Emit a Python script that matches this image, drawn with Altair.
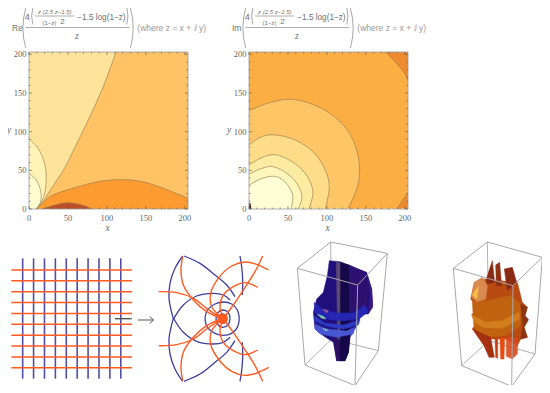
import altair as alt
import pandas as pd

# ---------- contour data (x, y in plot units) ----------
X_MAX, Y_MAX = 204, 203
MAJOR = [0, 50, 100, 150, 200]
MINOR = [10, 20, 30, 40, 60, 70, 80, 90, 110, 120, 130, 140, 160, 170, 180, 190]

re_upper = [(10, 0), (17, 8), (29, 27), (44, 50), (59, 80), (76, 115), (94, 155), (111, 201), (116, 215)]
re_arc1 = [(0, 91), (12, 78), (20, 59), (22, 38), (19, 16), (10, 0)]
re_arc2 = [(0, 46), (9, 38), (15, 23), (15, 10), (10, 0)]
re_low = [(10, 0), (27, 16), (57, 27), (87, 35), (117, 38), (147, 35), (177, 25), (204, 14), (215, 9)]
re_red = [(17, 0), (29, 4), (49, 8), (66, 5.5), (79, 0)]

im_c1 = [(0, 127), (25, 137), (52, 142), (85, 134), (116, 114), (135, 86), (142, 50), (138, 25), (127, 0)]
im_c2 = [(0, 83), (15, 93), (30, 96), (60, 89), (85, 71), (100, 45), (103, 28), (98, 0)]
im_c3 = [(0, 57), (20, 68), (35, 70), (60, 58), (75, 42), (82, 22), (77, 0)]
im_c4 = [(0, 45), (15, 52), (30, 55), (50, 45), (62, 32), (68, 15), (63, 0)]
im_c5 = [(0, 31), (18, 40), (35, 42), (48, 33), (56, 18), (54, 0)]
im_tr = [(172, 206), (188, 190), (200, 175), (206, 163)]
im_br = [(190, 0), (196, 10), (204, 21), (210, 28)]
im_dot = [(0, 0), (0, 8), (2, 7), (3, 0)]

# ---------- conformal-map sketch (reference units, y down) ----------
GRID = [1, 2, 3, 4, 5, 6, 7, 8, 9, 10]
blue_curves = [
    [(548, 78), (525, 115), (510, 160), (507, 205), (512, 235), (520, 266)],
    [(552, 78), (600, 100), (645, 135), (680, 165), (705, 200)],
    [(720, 78), (725, 110), (728, 150), (727, 195)],
    [(520, 268), (550, 225), (590, 198), (640, 190), (670, 195), (690, 210)],
    [(615, 266), (622, 240), (645, 222), (670, 216), (695, 222), (712, 240), (718, 266)],
    [(648, 266), (652, 250), (668, 240), (685, 248), (690, 266)],
    [(656, 266), (660, 256), (668, 252), (676, 256), (680, 266)],
]
orange_curves = [
    [(476, 185), (530, 188), (580, 205), (620, 235), (660, 262)],
    [(548, 80), (543, 120), (550, 165), (580, 210), (620, 245), (665, 265)],
    [(788, 78), (765, 125), (730, 180), (700, 225), (670, 265)],
    [(806, 120), (770, 103), (735, 96), (695, 108), (655, 145), (632, 190), (635, 230), (665, 262)],
    [(773, 172), (735, 158), (700, 170), (670, 195), (660, 230), (668, 262)],
]
MIRROR_Y = 532

# ---------- 3-D box frames and body outlines ----------
frame_c = [[(22, 88), (122, 9), (292, 43), (203, 138), (22, 88), (45, 378), (195, 440), (265, 335), (292, 43)],
           [(203, 138), (195, 440)], [(45, 378), (125, 300), (265, 335)], [(122, 9), (125, 300)]]
frame_d = [[(13, 88), (115, 9), (280, 55), (192, 140), (13, 88), (38, 380), (188, 442), (258, 345), (280, 55)],
           [(192, 140), (188, 442)], [(38, 380), (120, 305), (258, 345)], [(115, 9), (120, 305)]]

body_c = [
    ("#21107c", 1, [(118, 65), (150, 68), (190, 85), (230, 100), (245, 150), (248, 200), (235, 225), (215, 225), (200, 260),
                    (180, 295), (175, 340), (165, 365), (140, 365), (130, 310), (100, 290), (75, 270), (70, 220), (80, 180), (100, 160), (112, 110)]),
    ("#2c0f62", 1, [(130, 290), (180, 290), (175, 340), (165, 365), (140, 365)]),
    ("#150848", 1, [(150, 70), (178, 78), (178, 300), (175, 340), (165, 365), (150, 365)]),
    ("#2e1070", 1, [(178, 78), (222, 98), (235, 150), (230, 200), (178, 220)]),
    ("#5a4a70", 1, [(139, 70), (150, 70), (150, 300), (143, 300)]),
    ("#3a1a80", 1, [(232, 110), (245, 150), (248, 205), (236, 222), (240, 160)]),
    ("#2628b8", 0.95, [(72, 190), (100, 212), (140, 222), (190, 222), (225, 198), (235, 218), (210, 238), (160, 246), (110, 240), (75, 222)]),
    ("#2f3cc8", 0.95, [(72, 230), (105, 252), (160, 258), (210, 242), (205, 258), (160, 270), (110, 262), (75, 247)]),
    ("#4a5ad8", 0.95, [(75, 255), (110, 270), (170, 276), (195, 265), (190, 285), (140, 295), (90, 285), (75, 270)]),
    ("#86e0b4", 0.9, [(82, 226), (100, 232), (108, 240), (95, 238)]),
    ("#b86aa0", 0.8, [(98, 210), (115, 215), (110, 222)]),
    ("#8fdcc0", 0.8, [(98, 268), (115, 272), (108, 276)]),
]
body_d = [
    ("#b84a12", 1, [(100, 120), (205, 130), (220, 190), (235, 205), (228, 230), (238, 242), (225, 265), (235, 295), (215, 300),
                    (205, 320), (170, 300), (125, 300), (105, 300), (70, 268), (90, 250), (68, 228), (85, 205), (65, 180), (75, 135)]),
    ("#8a2a12", 1, [(112, 120), (130, 65), (137, 130), (115, 135)]),
    ("#8f3014", 1, [(140, 78), (152, 70), (158, 140), (142, 140)]),
    ("#8a2a12", 1, [(166, 90), (190, 85), (203, 130), (175, 155)]),
    ("#d98a50", 1, [(75, 130), (100, 115), (115, 140), (110, 180), (85, 190), (68, 175)]),
    ("#f5c040", 1, [(70, 168), (88, 142), (84, 180)]),
    ("#c0620f", 1, [(70, 190), (110, 185), (185, 170), (215, 195), (215, 260), (170, 290), (110, 295), (75, 265)]),
    ("#d58220", 0.9, [(68, 228), (110, 250), (160, 245), (210, 220), (212, 240), (160, 268), (100, 265), (75, 248)]),
    ("#a53010", 1, [(125, 295), (136, 355), (120, 355), (105, 320), (70, 270)]),
    ("#c83c14", 1, [(138, 298), (146, 298), (146, 358), (140, 355)]),
    ("#e84a10", 1, [(153, 298), (167, 296), (165, 360), (155, 360)]),
    ("#d84a20", 0.9, [(172, 295), (207, 298), (205, 345), (190, 360), (172, 352)]),
    ("#8a3515", 1, [(215, 195), (235, 205), (228, 230), (238, 242), (225, 265), (235, 295), (215, 300), (222, 260)]),
]

PX = alt.Scale(domain=[0, X_MAX], nice=False, zero=False)
PY = alt.Scale(domain=[0, Y_MAX], nice=False, zero=False)
W, H = 159, 157


# ---------- helpers ----------
def frame(points):
    return pd.DataFrame([{"x": p[0], "y": p[1], "i": i} for i, p in enumerate(points)])


def poly(points, xs, ys, fill=None, stroke=None, sw=1.0, op=1.0, interp="linear", clip=False):
    kw = dict(interpolate=interp, opacity=op, clip=clip, strokeWidth=sw, stroke=stroke or "transparent")
    if fill:
        kw["fill"] = fill
    return alt.Chart(frame(points)).mark_line(**kw).encode(
        x=alt.X("x:Q", scale=xs, axis=None),
        y=alt.Y("y:Q", scale=ys, axis=None),
        order="i:Q",
    )


def region(points, closure, fill, xs, ys, line="#8a7650"):
    return (poly(points + closure, xs, ys, fill=fill, interp="catmull-rom", clip=True)
            + poly(points, xs, ys, stroke=line, sw=0.8, op=0.75, interp="catmull-rom", clip=True))


def text(t, x, y, size, color="#707070", font="Liberation Sans", style="normal", align="left"):
    return alt.Chart(pd.DataFrame({"a": [0]})).mark_text(
        fontSize=size, font=font, fontStyle=style, color=color, align=align, baseline="alphabetic"
    ).encode(x=alt.value(x), y=alt.value(y), text=alt.value(t))


def paren(x, y, h, right=False):
    shape = "M -0.12 -1 Q 0.16 0 -0.12 1" if right else "M 0.12 -1 Q -0.16 0 0.12 1"
    return alt.Chart(pd.DataFrame({"a": [0]})).mark_point(
        shape=shape, size=h * h, filled=False, stroke="#a8a8a8", strokeWidth=1, opacity=1
    ).encode(x=alt.value(x), y=alt.value(y))


def hbar(x1, x2, y):
    return alt.Chart(pd.DataFrame({"a": [0]})).mark_rule(color="#999999", strokeWidth=0.8).encode(
        x=alt.value(x1), x2=alt.value(x2), y=alt.value(y))


def formula(label):
    dx = -28.7
    dy = -52
    parts = [
        text(label, 11.7 + dx, 31 + dy, 8.5),
        paren(23 + dx, 28 + dy, 40),
        paren(132.5 + dx, 28 + dy, 40, right=True),
        paren(31.5 + dx, 16 + dy, 17),
        paren(127.5 + dx, 16 + dy, 17, right=True),
        text("4", 24.5 + dx, 19.5 + dy, 9),
        text("z (2.5 z\u22121.5)", 54.5 + dx, 13.5 + dy, 6, align="center", style="italic"),
        hbar(35 + dx, 74 + dx, 16 + dy),
        text("(1\u2212z)", 49 + dx, 25 + dy, 6, align="center"),
        text("2", 60 + dx, 24 + dy, 8),
        text("\u22121.5 log(1\u2212z)", 77 + dx, 19.5 + dy, 8.2),
        hbar(25 + dx, 129 + dx, 27.5 + dy),
        text("z", 76.5 + dx, 38.5 + dy, 9.5, font="Liberation Serif", style="italic", align="center"),
        text("(where z = x + \u2148 y)", 137 + dx, 30.5 + dy, 8.5, color="#999999"),
    ]
    return parts


def ticks(vals, horizontal, at, length):
    col = "x" if horizontal else "y"
    d = pd.DataFrame({col: vals})
    if horizontal:
        return alt.Chart(d).mark_rule(color="#555555", strokeWidth=0.6).encode(
            x=alt.X("x:Q", scale=PX, axis=None), y=alt.value(at), y2=alt.value(at + length))
    return alt.Chart(d).mark_rule(color="#555555", strokeWidth=0.6).encode(
        y=alt.Y("y:Q", scale=PY, axis=None), x=alt.value(at), x2=alt.value(at + length))


def tick_labels():
    d = pd.DataFrame({"v": MAJOR})
    common = dict(font="Liberation Serif", fontSize=8.5, color="#666666")
    return [
        alt.Chart(d).mark_text(align="center", baseline="middle", **common).encode(
            x=alt.X("v:Q", scale=PX, axis=None), y=alt.value(H + 8.5), text=alt.Text("v:Q")),
        alt.Chart(d).mark_text(align="right", baseline="middle", **common).encode(
            y=alt.Y("v:Q", scale=PY, axis=None), x=alt.value(-2.5), text=alt.Text("v:Q")),
        text("x", W / 2 - 1, H + 22, 9.5, color="#666666", font="Liberation Serif", style="italic", align="center"),
        text("y", -20, H / 2 + 2, 9.5, color="#666666", font="Liberation Serif", style="italic", align="center"),
    ]


def decor():
    out = [poly([(0, 0), (X_MAX, 0), (X_MAX, Y_MAX), (0, Y_MAX), (0, 0)], PX, PY, stroke="#9a9a9a", sw=0.8)]
    for vals, ln in ((MAJOR, 3), (MINOR, 1.5)):
        out.append(ticks(vals, True, H - ln, ln))
        out.append(ticks(vals, True, 0, ln))
        out.append(ticks(vals, False, 0, ln))
        out.append(ticks(vals, False, W - ln, ln))
    return out + tick_labels()


def base(color):
    return poly([(0, 0), (X_MAX, 0), (X_MAX, Y_MAX), (0, Y_MAX)], PX, PY, fill=color)


panel_re = alt.layer(
    base("#FFC366"),
    region(re_upper, [(-30, 215), (-30, -20), (10, -20)], "#FEE49B", PX, PY),
    region(re_arc1, [(10, -30), (-30, -30), (-30, 91)], "#FFF3B6", PX, PY),
    region(re_arc2, [(10, -30), (-30, -30), (-30, 46)], "#FFFCCF", PX, PY),
    region(re_low, [(215, -30), (10, -30)], "#FC9B30", PX, PY),
    region(re_red, [(79, -30), (17, -30)], "#BF4F29", PX, PY),
    *decor(),
    *formula("Re"),
).properties(width=W, height=H)

panel_im = alt.layer(
    base("#FDAE42"),
    region(im_tr, [(230, 163), (230, 230), (172, 230)], "#EE8B2E", PX, PY),
    region(im_br, [(230, 28), (230, -30), (190, -30)], "#EE8B2E", PX, PY),
    region(im_c1, [(127, -30), (-30, -30), (-30, 127)], "#FEC567", PX, PY),
    region(im_c2, [(98, -30), (-30, -30), (-30, 83)], "#FEDC88", PX, PY),
    region(im_c3, [(77, -30), (-30, -30), (-30, 57)], "#FEEBA2", PX, PY),
    region(im_c4, [(63, -30), (-30, -30), (-30, 45)], "#FFF6BC", PX, PY),
    region(im_c5, [(54, -30), (-30, -30), (-30, 31)], "#FFFED4", PX, PY),
    poly(im_dot, PX, PY, fill="#5a1a10"),
    alt.Chart(pd.DataFrame({"x": [3], "x2": [X_MAX]})).mark_rule(color="#ffffff", strokeWidth=1, strokeDash=[3, 3]).encode(
        x=alt.X("x:Q", scale=PX, axis=None), x2="x2:Q", y=alt.value(H)),
    *decor(),
    *formula("Im"),
).properties(width=W, height=H)

spacer_df = pd.DataFrame({"a": [0]})


def spacer(w):
    return alt.Chart(spacer_df).mark_point(opacity=0).encode(x=alt.value(0), y=alt.value(0)).properties(width=w, height=H)


# ---------- grid panel ----------
AX = alt.Scale(domain=[-0.346, 13.23], nice=False, zero=False)
AY = alt.Scale(domain=[-1.04, 12.76], nice=False, zero=False)
vert = pd.DataFrame({"u": GRID, "lo": [0.0] * 10, "hi": [11.07] * 10})
horz = pd.DataFrame({"v": GRID, "lo": [-0.04] * 10, "hi": [11.03] * 10})
panel_a = alt.layer(
    alt.Chart(vert).mark_rule(color="#4f4fa6", strokeWidth=1.6).encode(
        x=alt.X("u:Q", scale=AX, axis=None), y=alt.Y("lo:Q", scale=AY, axis=None), y2="hi:Q"),
    alt.Chart(horz).mark_rule(color="#FF5A1F", strokeWidth=1.5).encode(
        y=alt.Y("v:Q", scale=AY, axis=None), x=alt.X("lo:Q", scale=AX, axis=None), x2="hi:Q"),
    poly([(9.47, 5.52), (11.0, 5.52)], AX, AY, stroke="#555555", sw=1.4),
    poly([(11.57, 5.4), (13.0, 5.4)], AX, AY, stroke="#444444", sw=0.9),
    poly([(12.65, 5.72), (13.0, 5.4), (12.65, 5.08)], AX, AY, stroke="#444444", sw=0.9),
).properties(width=148, height=150)

# ---------- mapped panel ----------
BX = alt.Scale(domain=[468, 840], nice=False, zero=False)
BY = alt.Scale(domain=[480, 30], nice=False, zero=False)


def both(curve):
    return [curve, [(x, MIRROR_Y - y) for x, y in curve]]


b_layers = []
for c in blue_curves:
    for m in both(c):
        b_layers.append(poly(m, BX, BY, stroke="#3f3f9f", sw=1.3, interp="catmull-rom"))
for c in orange_curves:
    for m in both(c):
        b_layers.append(poly(m, BX, BY, stroke="#FF5A1F", sw=1.4, interp="catmull-rom"))
b_layers.append(alt.Chart(pd.DataFrame({"x": [668], "y": [266]})).mark_point(
    filled=True, color="#FF5A1F", size=110, opacity=1).encode(
    x=alt.X("x:Q", scale=BX, axis=None), y=alt.Y("y:Q", scale=BY, axis=None)))
panel_b = alt.layer(*b_layers).properties(width=124, height=150)


# ---------- 3-D panels ----------
def box_panel(x_dom, frames, bodies, w):
    xs = alt.Scale(domain=x_dom, nice=False, zero=False)
    ys = alt.Scale(domain=[453, 3], nice=False, zero=False)
    layers = []
    # back edges first, body over them, front edges on top
    for f in frames[2:]:
        layers.append(poly(f, xs, ys, stroke="#b0b0b0", sw=1))
    for color, op, pts in bodies:
        layers.append(poly(pts + pts[:1], xs, ys, fill=color, stroke=color, sw=0.5, op=op))
    for f in frames[:2]:
        layers.append(poly(f, xs, ys, stroke="#a8a8a8", sw=1))
    return alt.layer(*layers).properties(width=w, height=150)


panel_c = box_panel([-30, 330], frame_c, body_c, 120)
panel_d = box_panel([-147, 297], frame_d, body_d, 148)

row1 = alt.hconcat(spacer(20.7), panel_re, spacer(60.3), panel_im, spacing=0, bounds="flush")
row2 = alt.hconcat(panel_a, panel_b, panel_c, panel_d, spacing=0, bounds="flush")

chart = alt.vconcat(row1, row2, spacing=188, bounds="flush").configure_view(stroke=None).properties(
    autosize=alt.AutoSizeParams(type="none"),
    padding={"left": 0, "top": 44, "right": 534, "bottom": 333},
    background="#ffffff",
)

chart.save("out.html", embed_options={"renderer": "svg", "actions": False})
